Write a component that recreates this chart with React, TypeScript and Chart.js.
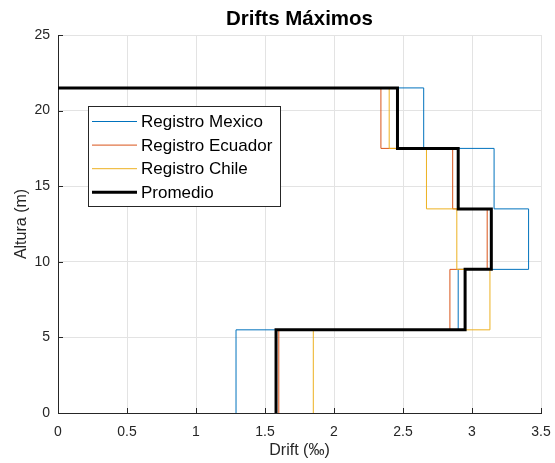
import React, { useEffect, useRef } from "react";
import { Chart, registerables } from "chart.js";

Chart.register(...registerables);

// Story boundary heights (m)
const stories = [0, 5.5, 9.5, 13.5, 17.5, 21.5];
// Drift per story (‰), bottom to top
const mexico = [1.29, 2.9, 3.41, 3.16, 2.65];
const ecuador = [1.6, 2.84, 3.11, 2.86, 2.34];
const chile = [1.85, 3.13, 2.89, 2.67, 2.4];
const promedio = [1.58, 2.95, 3.14, 2.9, 2.46];

const seriesNames = ["Registro Mexico", "Registro Ecuador", "Registro Chile", "Promedio"];
const seriesColors = ["#0072BD", "#D95319", "#EDB120", "#000000"];
const seriesWidths = [1, 1, 1, 3];

const xTicks = [0, 0.5, 1, 1.5, 2, 2.5, 3, 3.5];
const yTicks = [0, 5, 10, 15, 20, 25];

function stepPoints(drifts: number[]) {
  const pts: { x: number; y: number }[] = [];
  drifts.forEach((d, i) => {
    pts.push({ x: d, y: stories[i] });
    pts.push({ x: d, y: stories[i + 1] });
  });
  pts.push({ x: 0, y: stories[stories.length - 1] });
  return pts;
}

const FONT = "Arial, 'Liberation Sans', Helvetica, sans-serif";
const TXT = "#262626";

const decorPlugin = {
  id: "decor",
  afterDraw(chart: any) {
    const ctx = chart.ctx;
    const area = chart.chartArea;
    const xs = chart.scales.x;
    const ys = chart.scales.y;
    ctx.save();
    // inward ticks
    ctx.strokeStyle = TXT;
    ctx.lineWidth = 1;
    ctx.beginPath();
    xTicks.forEach((v) => {
      const px = Math.round(xs.getPixelForValue(v)) + 0.5;
      ctx.moveTo(px, area.bottom);
      ctx.lineTo(px, area.bottom - 5);
    });
    yTicks.forEach((v) => {
      const py = Math.round(ys.getPixelForValue(v)) + 0.5;
      ctx.moveTo(area.left, py);
      ctx.lineTo(area.left + 5, py);
    });
    ctx.stroke();

    // title
    ctx.fillStyle = "#000";
    ctx.font = `bold 20.5px ${FONT}`;
    ctx.textAlign = "center";
    ctx.textBaseline = "alphabetic";
    ctx.fillText("Drifts Máximos", (area.left + area.right) / 2, 25);

    // axis titles
    ctx.fillStyle = TXT;
    ctx.font = `16px ${FONT}`;
    ctx.textBaseline = "middle";
    ctx.fillText("Drift (‰)", (area.left + area.right) / 2, 451);
    ctx.save();
    ctx.translate(22, (area.top + area.bottom) / 2);
    ctx.rotate(-Math.PI / 2);
    ctx.fillText("Altura (m)", 0, 0);
    ctx.restore();

    // legend
    const lx = 88.5, ly = 106.5, lw = 192, lh = 100;
    ctx.fillStyle = "#ffffff";
    ctx.fillRect(lx, ly, lw, lh);
    ctx.strokeStyle = TXT;
    ctx.lineWidth = 1;
    ctx.strokeRect(lx, ly, lw, lh);
    ctx.font = `17px ${FONT}`;
    ctx.textAlign = "left";
    ctx.textBaseline = "middle";
    seriesNames.forEach((name, i) => {
      const y = 121.5 + i * 23.6;
      ctx.strokeStyle = seriesColors[i];
      ctx.lineWidth = seriesWidths[i];
      ctx.beginPath();
      ctx.moveTo(92, y);
      ctx.lineTo(137, y);
      ctx.stroke();
      ctx.fillStyle = "#000";
      ctx.fillText(name, 141, y + 1);
    });
    ctx.restore();
  },
};

export default function App() {
  const ref = useRef<HTMLCanvasElement>(null);
  useEffect(() => {
    if (!ref.current) return;
    const all = [mexico, ecuador, chile, promedio];
    const chart = new Chart(ref.current, {
      type: "scatter",
      data: {
        datasets: all.map((d, i) => ({
          label: seriesNames[i],
          data: stepPoints(d),
          showLine: true,
          order: all.length - 1 - i,
          borderColor: seriesColors[i],
          backgroundColor: seriesColors[i],
          borderWidth: seriesWidths[i],
          pointRadius: 0,
          fill: false,
          tension: 0,
          borderJoinStyle: "miter" as const,
        })),
      },
      options: {
        responsive: false,
        animation: false,
        layout: { padding: { top: 35, right: 14, left: 0, bottom: 0 } },
        plugins: {
          legend: { display: false },
          title: { display: false },
          tooltip: { enabled: false },
        },
        scales: {
          x: {
            type: "linear",
            min: 0,
            max: 3.5,
            afterBuildTicks: (s: any) => {
              s.ticks = xTicks.map((v) => ({ value: v }));
            },
            afterFit: (s: any) => {
              s.height = 50;
              s.paddingLeft = 0;
              s.paddingRight = 0;
            },
            ticks: {
              color: TXT,
              font: { size: 14, family: FONT },
              padding: 11,
              maxRotation: 0,
              callback: (v: any) => String(v),
            },
            grid: { color: "#e3e3e3", drawTicks: false, lineWidth: 1 },
            border: { color: TXT, width: 1 },
          },
          y: {
            type: "linear",
            min: 0,
            max: 25,
            afterBuildTicks: (s: any) => {
              s.ticks = yTicks.map((v) => ({ value: v }));
            },
            afterFit: (s: any) => {
              s.width = 58;
              s.paddingTop = 0;
              s.paddingBottom = 0;
            },
            ticks: {
              color: TXT,
              font: { size: 14, family: FONT },
              padding: 8,
              callback: (v: any) => String(v),
            },
            grid: { color: "#e3e3e3", drawTicks: false, lineWidth: 1 },
            border: { color: TXT, width: 1 },
          },
        },
      },
      plugins: [decorPlugin],
    });
    return () => chart.destroy();
  }, []);
  return (
    <div style={{ position: "absolute", left: 0, top: 0, width: 555, height: 463, background: "#fff" }}>
      <canvas ref={ref} width={555} height={463} style={{ width: 555, height: 463 }} />
    </div>
  );
}
